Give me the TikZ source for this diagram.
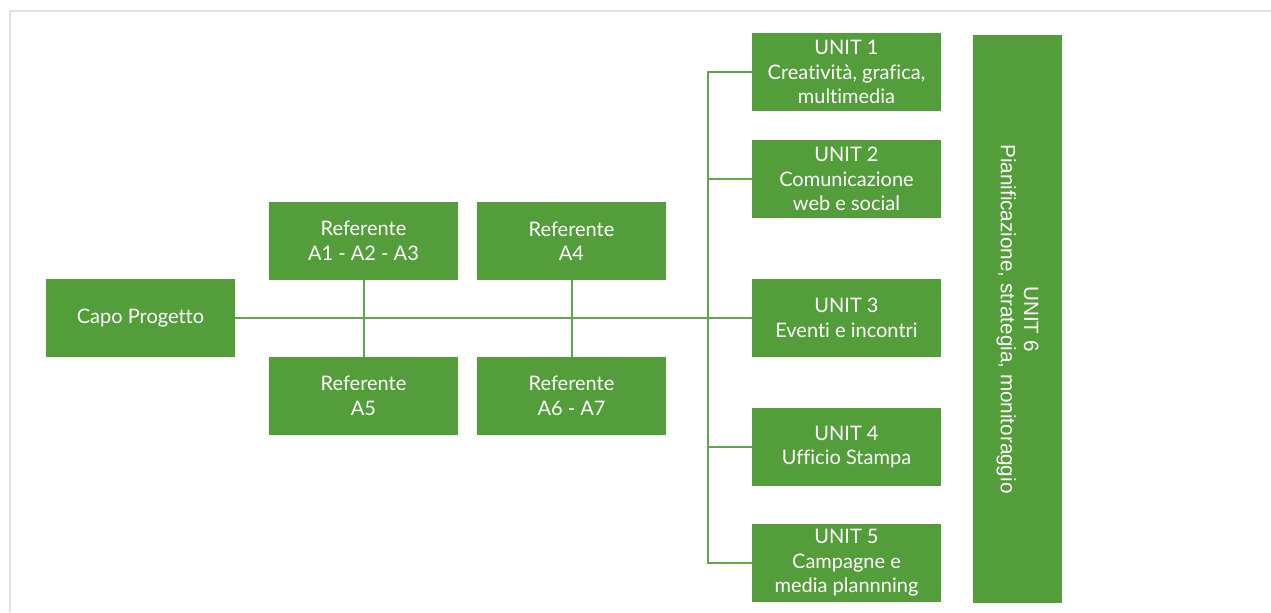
\documentclass[tikz,border=0pt]{standalone}
\usepackage{fontspec}
\setmainfont{Lato}[Ligatures=NoCommon]
\newfontfamily\unitsixfont{Liberation Sans}[Ligatures=NoCommon]
\usetikzlibrary{positioning}
\definecolor{unitgreen}{HTML}{539E3B}
\definecolor{linkgreen}{HTML}{62A74B}
\definecolor{framegray}{HTML}{E2E2E2}
\tikzset{box/.style = {rectangle, fill=unitgreen, text=white, inner sep=0pt,
                       minimum width=141.75pt, minimum height=58.5pt, align=center,
                       font=\fontsize{15}{18.4}\selectfont},
         link/.style = {draw=linkgreen, line width=1.5pt}}

\begin{document}
\begin{tikzpicture}[x=0.75pt, y=-0.75pt]
            \useasboundingbox (0,0) rectangle (1271,612);
            \draw[framegray, line width=1.2pt] (10,612) -- (10,11) -- (1271,11);

            \node[box] (capo) at (140.5,318) {Capo Progetto};

            \node[box] (r123) at (363.5,241) {Referente\\A1 - A2 - A3};
            \node[box] (r4)   at (571.5,241) {Referente\\A4};
            \node[box] (r5)   at (363.5,396) {Referente\\A5};
            \node[box] (r67)  at (571.5,396) {Referente\\A6 - A7};

            \node[box] (u1) at (846.5, 72) {UNIT 1\\Creatività, grafica,\\multimedia};
            \node[box] (u2) at (846.5,179) {UNIT 2\\Comunicazione\\web e social};
            \node[box] (u3) at (846.5,318) {UNIT 3\\Eventi e incontri};
            \node[box] (u4) at (846.5,447) {UNIT 4\\Ufficio Stampa};
            \node[box] (u5) at (846.5,563) {UNIT 5\\Campagne e\\media plannning};

            \node[box, rotate=-90, minimum width=426pt, minimum height=66.75pt,
                  font=\unitsixfont\fontsize{15.5}{17.5}\selectfont] (u6) at (1017.5,319)
                  {UNIT 6\\Pianificazione, strategia, monitoraggio};

            \coordinate (t1) at (708, 72);
            \coordinate (t5) at (708,563);

            \draw[link] (capo) -- (u3);
            \draw[link] (r123) -- (r5);
            \draw[link] (r4) -- (r67);
            \draw[link] (u1.west) -- (t1) -- (t5) -- (u5.west);
            \draw[link] (u2.west) -- (u2.west -| t1);
            \draw[link] (u4.west) -- (u4.west -| t1);
\end{tikzpicture}
\end{document}
